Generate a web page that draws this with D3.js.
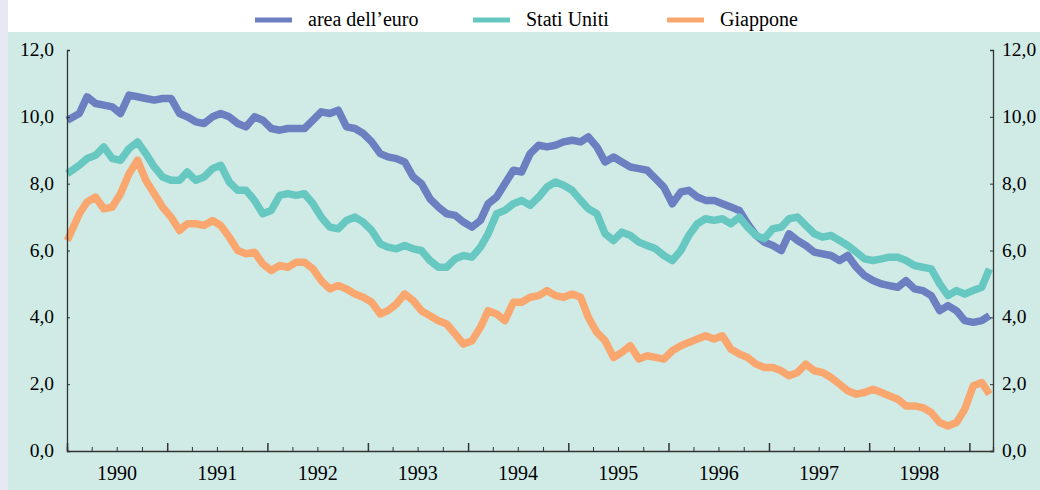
<!DOCTYPE html>
<html>
<head>
<meta charset="utf-8">
<script src="https://cdn.jsdelivr.net/npm/d3@7"></script>
<style>
  body { margin: 0; background: #fff; }
  svg { display: block; }
</style>
</head>
<body>
<svg id="chart"></svg>
<script>
// monthly values (mid-month), Jan 1990 .. Mar 1999
const seriesNames = ['area dell\u2019euro', 'Stati Uniti', 'Giappone'];
const seriesColors = ['#6b7fc1', '#67c7c1', '#f9a76f'];

const euro = [
  9.9, 10.1, 10.6, 10.4, 10.35, 10.3, 10.1, 10.65, 10.6, 10.55, 10.5, 10.55,
  10.55, 10.1, 10.0, 9.85, 9.8, 10.0, 10.1, 10.0, 9.8, 9.7, 10.0, 9.9,
  9.65, 9.6, 9.65, 9.65, 9.65, 9.9, 10.15, 10.1, 10.2, 9.7, 9.65, 9.5,
  9.25, 8.9, 8.8, 8.75, 8.65, 8.2, 8.0, 7.55, 7.3, 7.1, 7.05, 6.85,
  6.7, 6.9, 7.4, 7.6, 8.0, 8.4, 8.35, 8.9, 9.15, 9.1, 9.15, 9.25,
  9.3, 9.25, 9.4, 9.1, 8.65, 8.8, 8.65, 8.5, 8.45, 8.4, 8.15, 7.9,
  7.4, 7.75, 7.8, 7.6, 7.5, 7.5, 7.4, 7.3, 7.2, 6.8, 6.45, 6.25,
  6.15, 6.0, 6.5, 6.3, 6.15, 5.95, 5.9, 5.85, 5.7, 5.85, 5.5, 5.25,
  5.1, 5.0, 4.95, 4.9, 5.1, 4.85, 4.8, 4.65, 4.2, 4.35, 4.2, 3.9,
  3.85, 3.9, 4.05
];
const usa = [
  8.3, 8.55, 8.75, 8.85, 9.1, 8.75, 8.7, 9.05, 9.25, 8.9, 8.5, 8.2,
  8.1, 8.1, 8.35, 8.1, 8.2, 8.45, 8.55, 8.05, 7.8, 7.8, 7.5, 7.1,
  7.2, 7.65, 7.7, 7.65, 7.7, 7.4, 7.0, 6.7, 6.65, 6.9, 7.0, 6.85,
  6.6, 6.2, 6.1, 6.05, 6.15, 6.05, 6.0, 5.7, 5.5, 5.5, 5.75, 5.85,
  5.8, 6.1, 6.5, 7.1, 7.2, 7.4, 7.5, 7.35, 7.6, 7.9, 8.05, 7.95,
  7.8, 7.5, 7.25, 7.1, 6.5, 6.3, 6.55, 6.45, 6.25, 6.15, 6.05, 5.85,
  5.7, 6.0, 6.45, 6.8, 6.95, 6.9, 6.95, 6.8, 7.0, 6.7, 6.45, 6.35,
  6.65, 6.7, 6.95, 7.0, 6.75, 6.5, 6.4, 6.45, 6.3, 6.15, 5.95, 5.75,
  5.7, 5.75, 5.8, 5.8, 5.7, 5.55, 5.5, 5.45, 5.0, 4.65, 4.8, 4.7,
  4.8, 4.9, 5.45
];
const japan = [
  6.3, 7.1, 7.45, 7.6, 7.25, 7.3, 7.7, 8.3, 8.7, 8.1, 7.7, 7.3,
  7.0, 6.6, 6.8, 6.8, 6.75, 6.9, 6.75, 6.4, 6.0, 5.9, 5.95, 5.6,
  5.4, 5.55, 5.5, 5.65, 5.65, 5.45, 5.1, 4.85, 4.95, 4.85, 4.7, 4.6,
  4.45, 4.1, 4.2, 4.4, 4.7, 4.5, 4.2, 4.05, 3.9, 3.8, 3.5, 3.2,
  3.3, 3.7, 4.2, 4.1, 3.9, 4.45, 4.45, 4.6, 4.65, 4.8, 4.65, 4.6,
  4.7, 4.6, 4.0, 3.55, 3.3, 2.8, 2.95, 3.15, 2.75, 2.85, 2.8, 2.75,
  3.0, 3.15, 3.25, 3.35, 3.45, 3.35, 3.45, 3.05, 2.9, 2.8, 2.6, 2.5,
  2.5, 2.4, 2.25, 2.35, 2.6, 2.4, 2.35, 2.2, 2.0, 1.8, 1.7, 1.75,
  1.85, 1.75, 1.65, 1.55, 1.35, 1.35, 1.3, 1.15, 0.85, 0.75, 0.85, 1.25,
  1.95, 2.05, 1.7
];
const yTicks = [0, 2, 4, 6, 8, 10, 12];
const yearLabels = [1990, 1991, 1992, 1993, 1994, 1995, 1996, 1997, 1998];

const width = 1040, height = 490;
const plotLeft = 67, plotRight = 993, plotTop = 50, plotBottom = 451;

const svg = d3.select('#chart').attr('width', width).attr('height', height);

// page strip + panel
svg.append('rect').attr('x', 0).attr('y', 0).attr('width', 8).attr('height', height).attr('fill', '#e6e9f3');
svg.append('rect').attr('x', 8).attr('y', 32).attr('width', width - 8).attr('height', height - 32).attr('fill', '#d0ebe6');

const x = d3.scaleTime()
  .domain([new Date(1990, 0, 1), new Date(1999, 2, 28)])
  .range([plotLeft, plotRight]);
const y = d3.scaleLinear().domain([0, 12]).range([plotBottom, plotTop]);

const fmt = d => d3.format('.1f')(d).replace('.', ',');
const font = '"Liberation Serif", "Times New Roman", serif';

// first point sits on the start of the axis, the rest mid-month
const dates = euro.map((_, i) => i === 0 ? new Date(1990, 0, 2) : new Date(1990, i, 15));
const all = [euro, usa, japan];

const line = d3.line()
  .x((d, i) => x(dates[i]))
  .y(d => y(d))
  .curve(d3.curveLinear);

svg.append('g')
  .selectAll('path')
  .data(all)
  .join('path')
  .attr('d', d => line(d))
  .attr('fill', 'none')
  .attr('stroke', (d, i) => seriesColors[i])
  .attr('stroke-width', 7.5)
  .attr('stroke-linejoin', 'round');

// y axes, ticks pointing inward
const yLeft = svg.append('g')
  .attr('transform', 'translate(' + plotLeft + ',0)')
  .call(d3.axisRight(y).tickValues(yTicks).tickSize(3).tickFormat(''));
const yRight = svg.append('g')
  .attr('transform', 'translate(' + plotRight + ',0)')
  .call(d3.axisLeft(y).tickValues(yTicks).tickSize(3).tickFormat(''));
[yLeft, yRight].forEach(g => {
  g.selectAll('path').attr('stroke', '#333').attr('stroke-width', 1.3);
  g.selectAll('line').attr('stroke', '#333');
});

svg.append('g')
  .selectAll('text')
  .data(yTicks)
  .join('text')
  .attr('x', 54)
  .attr('y', d => y(d) + 6)
  .attr('text-anchor', 'end')
  .attr('font-family', font)
  .attr('font-size', 19.5)
  .attr('fill', '#000')
  .text(fmt);
svg.append('g')
  .selectAll('text')
  .data(yTicks)
  .join('text')
  .attr('x', 1002)
  .attr('y', d => y(d) + 6)
  .attr('font-family', font)
  .attr('font-size', 19.5)
  .attr('fill', '#000')
  .text(fmt);

// x axis: quarter ticks, year ticks longer
const xAxis = svg.append('g')
  .attr('transform', 'translate(0,' + plotBottom + ')')
  .call(d3.axisTop(x).ticks(d3.timeMonth.every(3)).tickSize(4).tickFormat(''));
xAxis.select('path').attr('stroke', '#333').attr('stroke-width', 1.3);
xAxis.selectAll('line').attr('stroke', '#333')
  .attr('y2', d => d.getMonth() === 0 ? -8 : -4)
  .attr('stroke-width', d => d.getMonth() === 0 ? 1.5 : 1);

svg.append('g')
  .selectAll('text')
  .data(yearLabels)
  .join('text')
  .attr('x', d => x(new Date(d, 6, 2)))
  .attr('y', 480)
  .attr('text-anchor', 'middle')
  .attr('font-family', font)
  .attr('font-size', 20)
  .attr('fill', '#000')
  .text(d => d);

// legend
const legendX = [255, 473, 667];
const legend = svg.append('g')
  .selectAll('g')
  .data(seriesNames)
  .join('g')
  .attr('transform', (d, i) => 'translate(' + legendX[i] + ',20)');
legend.append('line')
  .attr('x1', 0).attr('x2', 37)
  .attr('stroke', (d, i) => seriesColors[i])
  .attr('stroke-width', 5);
legend.append('text')
  .attr('x', 53)
  .attr('y', 6)
  .attr('font-family', font)
  .attr('font-size', 20)
  .attr('fill', '#000')
  .text(d => d);
</script>
</body>
</html>
